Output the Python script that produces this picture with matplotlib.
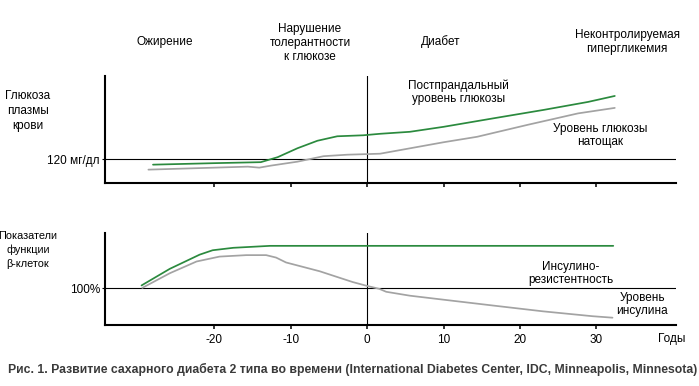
import matplotlib.pyplot as plt

plt.rcParams["font.family"] = ["Liberation Sans", "DejaVu Sans"]
plt.rcParams["axes.unicode_minus"] = False

# =============================
# Data
# =============================
# Upper panel: plasma glucose, mg/dl (120 mg/dl reference line)
post_years = [-28.0, -20.0, -13.9, -11.7, -9.1, -6.5, -3.9, -0.5, 1.7, 5.6, 10.0, 16.5, 23.1, 28.9, 32.4]
post_glucose = [109, 112, 114, 124, 142, 157, 166, 168, 171, 175, 185, 202, 219, 235, 247]

fast_years = [-28.6, -15.6, -14.1, -12.6, -9.1, -5.7, -2.6, 1.7, 10.0, 14.4, 21.0, 27.6, 32.4]
fast_glucose = [99, 105, 103, 107, 115, 126, 129, 131, 154, 165, 189, 212, 223]

# Lower panel: beta-cell function, % (100% reference line)
resist_years = [-29.5, -25.8, -21.9, -20.2, -17.5, -12.7, -5.0, 32.2]
resist_pct = [106, 140, 169, 178, 183, 187, 187, 187]

insulin_years = [-29.4, -25.8, -22.3, -19.3, -15.8, -13.2, -11.9, -10.6, -6.2, -1.9,
                 0.0, 1.6, 2.5, 5.6, 9.9, 16.4, 23.0, 29.5, 32.1]
insulin_pct = [101, 131, 155, 165, 168, 168, 163, 153, 135, 113,
               105, 99, 93, 85, 77, 65, 53, 43, 40]

year_ticks = [-20, -10, 0, 10, 20, 30]

GREEN = "#2b8a3e"
GRAY = "#a3a3a3"
FS = 8.5
LW = 1.25

fig = plt.figure(figsize=(6.99, 3.86), dpi=100)
ax1 = fig.add_axes([0.150, 0.527, 0.817, 0.276])
ax2 = fig.add_axes([0.150, 0.158, 0.817, 0.238])

for ax in (ax1, ax2):
    ax.set_xlim(-34.3, 40.4)
    for side in ("top", "right"):
        ax.spines[side].set_visible(False)
    for side in ("left", "bottom"):
        ax.spines[side].set_linewidth(1.5)
    ax.set_xticks(year_ticks)
    ax.tick_params(axis="x", direction="out", length=2.8, width=1.1, labelsize=FS, pad=4)
    ax.tick_params(axis="y", direction="out", length=2.5, width=0.8, labelsize=FS, pad=1)
    ax.axvline(0, color="black", lw=0.8)

# ---- upper panel ----
ax1.set_ylim(73, 287)
ax1.axhline(120, color="black", lw=0.8)
ax1.plot(fast_years, fast_glucose, color=GRAY, lw=LW, solid_capstyle="round")
ax1.plot(post_years, post_glucose, color=GREEN, lw=LW, solid_capstyle="round")
ax1.set_yticks([120])
ax1.set_yticklabels(["120 мг/дл"])
ax1.tick_params(axis="x", labelbottom=False)
ax1.text(12.0, 255, "Постпрандальный\nуровень глюкозы", ha="center", va="center",
         fontsize=FS, linespacing=1.15)
ax1.text(30.5, 168, "Уровень глюкозы\nнатощак", ha="center", va="center",
         fontsize=FS, linespacing=1.15)

# ---- lower panel ----
ax2.set_ylim(25, 213)
ax2.axhline(100, color="black", lw=0.8)
ax2.plot(insulin_years, insulin_pct, color=GRAY, lw=LW, solid_capstyle="round")
ax2.plot(resist_years, resist_pct, color=GREEN, lw=LW, solid_capstyle="round")
ax2.set_yticks([100])
ax2.set_yticklabels(["100%"])
ax2.text(26.6, 130, "Инсулино-\nрезистентность", ha="center", va="center",
         fontsize=FS, linespacing=1.15)
ax2.text(36.0, 67, "Уровень\nинсулина", ha="center", va="center",
         fontsize=FS, linespacing=1.15)
fig.text(671.5 / 699, 1 - 339 / 386, "Годы", ha="center", va="center", fontsize=FS)

# ---- left labels ----
fig.text(28 / 699, 1 - 111 / 386, "Глюкоза\nплазмы\nкрови", ha="center", va="center",
         fontsize=FS, linespacing=1.3)
fig.text(28 / 699, 1 - 250 / 386, "Показатели\nфункции\nβ-клеток", ha="center", va="center",
         fontsize=7.8, linespacing=1.4)

# ---- stage headers ----
fig.text(165 / 699, 1 - 42 / 386, "Ожирение", ha="center", va="center", fontsize=FS)
fig.text(310 / 699, 1 - 43 / 386, "Нарушение\nтолерантности\nк глюкозе", ha="center",
         va="center", fontsize=FS, linespacing=1.2)
fig.text(441 / 699, 1 - 42 / 386, "Диабет", ha="center", va="center", fontsize=FS)
fig.text(627 / 699, 1 - 42 / 386, "Неконтролируемая\nгипергликемия", ha="center",
         va="center", fontsize=FS, linespacing=1.2)

# ---- caption ----
fig.text(8 / 699, 1 - 369 / 386,
         "Рис. 1. Развитие сахарного диабета 2 типа во времени "
         "(International Diabetes Center, IDC, Minneapolis, Minnesota)",
         ha="left", va="center", fontsize=8.8, fontweight="bold", color="#3a3a3a")

fig.savefig("out.png", dpi=100)
